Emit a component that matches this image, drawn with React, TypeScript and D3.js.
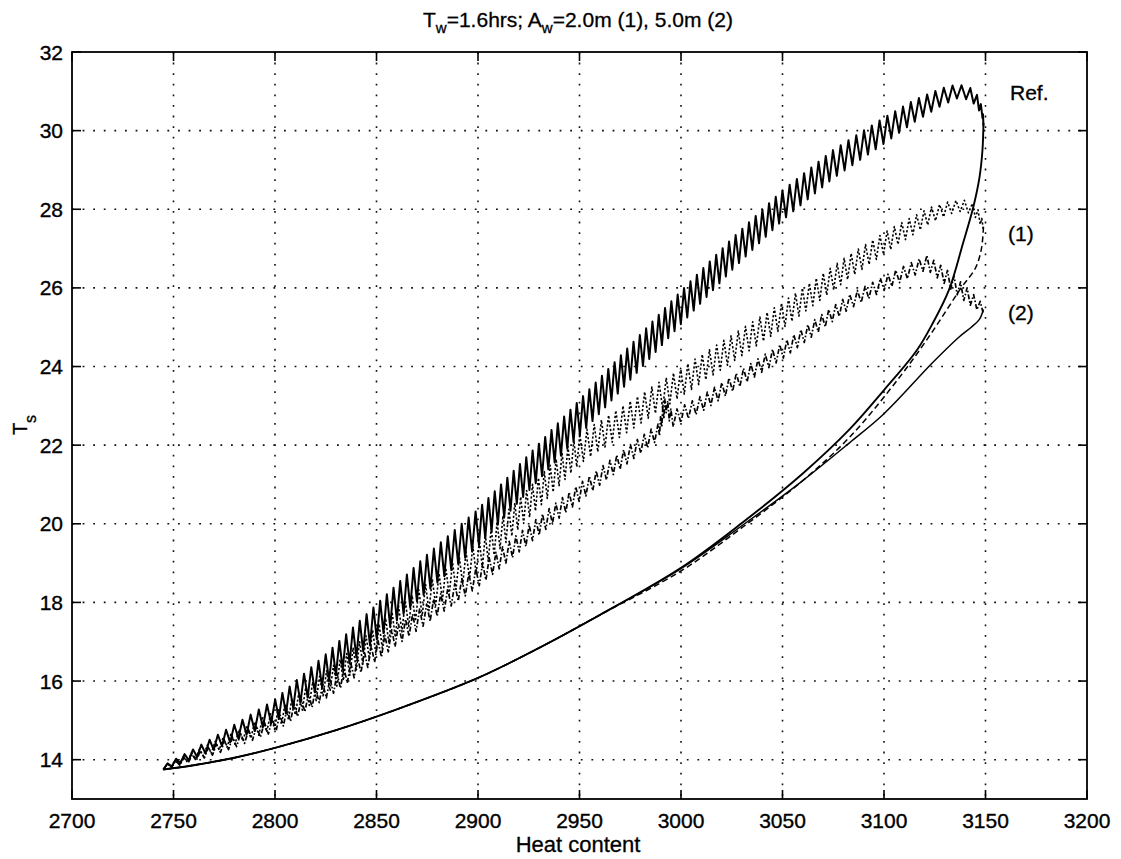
import React from 'react';
import * as d3 from 'd3';

const W = 1121;
const H = 859;
const plot = { left: 72, right: 1087, top: 52, bottom: 799 };

const xTicks = [2700, 2750, 2800, 2850, 2900, 2950, 3000, 3050, 3100, 3150, 3200];
const yTicks = [14, 16, 18, 20, 22, 24, 26, 28, 30, 32];
const xDomain = [2700, 3200];
const yDomain = [13, 32];

// Reference run: heating branch (centre of the tidal band, half band height) and cooling branch
const refRiseX = [2745, 2760, 2775, 2800, 2825, 2850, 2875, 2900, 2925, 2950, 2975, 3000, 3025, 3050, 3075, 3100, 3115, 3128, 3136, 3142, 3146, 3148.5, 3149];
const refRiseY = [13.8, 14.15, 14.55, 15.25, 16.3, 17.5, 18.75, 19.9, 21.3, 22.7, 24.1, 25.5, 26.85, 28.1, 29.15, 30.0, 30.5, 30.85, 31.0, 30.95, 30.75, 30.45, 30.2];
const refRiseAmp = [0.05, 0.12, 0.18, 0.28, 0.38, 0.45, 0.47, 0.47, 0.46, 0.45, 0.44, 0.42, 0.4, 0.38, 0.36, 0.33, 0.28, 0.22, 0.18, 0.16, 0.15, 0.12, 0.08];
const refFallX = [3149, 3148.5, 3147, 3144, 3139, 3132, 3124, 3116, 3100, 3083, 3060, 3030, 3000, 2960, 2930, 2900, 2860, 2830, 2800, 2780, 2760, 2745];
const refFallY = [30.2, 29.5, 28.8, 28.06, 27.15, 25.95, 25.1, 24.4, 23.4, 22.4, 21.28, 20.02, 18.88, 17.68, 16.84, 16.08, 15.28, 14.75, 14.3, 14.05, 13.86, 13.75];

// Case (1): A_w = 2.0 m
const c1RiseX = [2745, 2760, 2780, 2800, 2830, 2861, 2900, 2950, 3000, 3050, 3083, 3105, 3123, 3133, 3139, 3144, 3147, 3149];
const c1RiseY = [13.8, 14.1, 14.55, 15.0, 16.15, 17.55, 19.15, 21.9, 23.6, 25.3, 26.55, 27.3, 27.85, 28.05, 28.1, 28.0, 27.8, 27.55];
const c1RiseAmp = [0.05, 0.1, 0.16, 0.22, 0.3, 0.36, 0.38, 0.38, 0.36, 0.33, 0.3, 0.26, 0.2, 0.16, 0.14, 0.14, 0.14, 0.1];
const c1FallX = [3149, 3148, 3145, 3138, 3124, 3108, 3083, 3060, 3030, 3000, 2960, 2930, 2900, 2860, 2830, 2800, 2780, 2760, 2745];
const c1FallY = [27.55, 27.0, 26.5, 26.0, 24.9, 23.75, 22.2, 21.1, 19.9, 18.8, 17.68, 16.84, 16.08, 15.28, 14.75, 14.3, 14.05, 13.86, 13.75];

// Case (2): A_w = 5.0 m
const c2RiseX = [2745, 2760, 2780, 2800, 2830, 2861, 2900, 2950, 2975, 2989, 2992.5, 2995.5, 3010, 3050, 3083, 3105, 3121, 3130, 3140, 3149];
const c2RiseY = [13.8, 14.05, 14.45, 14.9, 15.95, 17.2, 18.65, 20.8, 21.8, 22.35, 23.05, 22.65, 23.05, 24.4, 25.65, 26.25, 26.65, 26.3, 25.85, 25.45];
const c2RiseAmp = [0.05, 0.1, 0.14, 0.18, 0.22, 0.25, 0.25, 0.22, 0.21, 0.2, 0.2, 0.2, 0.2, 0.2, 0.18, 0.18, 0.18, 0.2, 0.2, 0.12];
const c2FallX = [3149, 3147, 3143, 3137, 3124, 3100, 3083, 3060, 3030, 3000, 2960, 2930, 2900, 2860, 2830, 2800, 2780, 2760, 2745];
const c2FallY = [25.45, 25.2, 25.0, 24.75, 24.1, 22.8, 22.06, 21.1, 19.95, 18.86, 17.68, 16.84, 16.08, 15.28, 14.75, 14.3, 14.05, 13.86, 13.75];

// number of tidal cycles drawn along each heating branch
const refCycles = 118;
const c1Cycles = 118;
const c2Cycles = 118;

const x = d3.scaleLinear().domain(xDomain).range([plot.left, plot.right]);
const y = d3.scaleLinear().domain(yDomain).range([plot.bottom, plot.top]);

function tidalBand(xs: number[], ys: number[], amps: number[], cycles: number): string {
  const px = xs.map((v) => x(v));
  const py = ys.map((v) => y(v));
  const pa = amps.map((a) => y(yDomain[0]) - y(yDomain[0] + a));
  const cum: number[] = [0];
  for (let i = 1; i < px.length; i++) {
    cum.push(cum[i - 1] + Math.hypot(px[i] - px[i - 1], py[i] - py[i - 1]));
  }
  const sx = d3.scaleLinear().domain(cum).range(px);
  const sy = d3.scaleLinear().domain(cum).range(py);
  const sa = d3.scaleLinear().domain(cum).range(pa);
  const total = cum[cum.length - 1];
  const n = cycles * 2;
  const pts: [number, number][] = [];
  for (let k = 0; k <= n; k++) {
    const s = (k / n) * total;
    const sign = k % 2 === 0 ? 1 : -1;
    pts.push([sx(s), sy(s) + sign * sa(s)]);
  }
  return d3.line()(pts) || '';
}

function smooth(xs: number[], ys: number[]): string {
  const pts: [number, number][] = xs.map((v, i) => [x(v), y(ys[i])]);
  return d3.line().curve(d3.curveCatmullRom.alpha(0.5))(pts) || '';
}

const font = '"Liberation Sans", Arial, Helvetica, sans-serif';

export default function App() {
  const tick = 9;
  return (
    <svg
      width={W}
      height={H}
      style={{ position: 'absolute', left: 0, top: 0, background: '#fff' }}
      fontFamily={font}
    >
      <rect x={0} y={0} width={W} height={H} fill="#fff" />
      {/* grid */}
      <g stroke="#111" strokeWidth={1.6} strokeDasharray="1.8,8.8">
        {xTicks.slice(1, -1).map((t) => (
          <line key={'gx' + t} x1={x(t)} x2={x(t)} y1={plot.top} y2={plot.bottom} />
        ))}
        {yTicks.slice(0, -1).map((t) => (
          <line key={'gy' + t} x1={plot.left} x2={plot.right} y1={y(t)} y2={y(t)} />
        ))}
      </g>

      {/* curves */}
      <g fill="none" stroke="#000" strokeLinejoin="round">
        <path d={smooth(c2FallX, c2FallY)} strokeWidth={1.5} />
        <path d={smooth(c1FallX, c1FallY)} strokeWidth={1.5} strokeDasharray="6,3.5" />
        <path d={smooth(refFallX, refFallY)} strokeWidth={1.9} />
        <path d={tidalBand(c2RiseX, c2RiseY, c2RiseAmp, c2Cycles)} strokeWidth={1.7} strokeDasharray="5,2,1.6,2" />
        <path d={tidalBand(c1RiseX, c1RiseY, c1RiseAmp, c1Cycles)} strokeWidth={1.6} strokeDasharray="2.2,2" />
        <path d={tidalBand(refRiseX, refRiseY, refRiseAmp, refCycles)} strokeWidth={2} />
      </g>

      {/* axes box */}
      <rect
        x={plot.left}
        y={plot.top}
        width={plot.right - plot.left}
        height={plot.bottom - plot.top}
        fill="none"
        stroke="#000"
        strokeWidth={1.8}
      />
      <g stroke="#000" strokeWidth={1.6}>
        {xTicks.map((t) => (
          <g key={'tx' + t}>
            <line x1={x(t)} x2={x(t)} y1={plot.bottom} y2={plot.bottom - tick} />
            <line x1={x(t)} x2={x(t)} y1={plot.top} y2={plot.top + tick} />
          </g>
        ))}
        {yTicks.map((t) => (
          <g key={'ty' + t}>
            <line x1={plot.left} x2={plot.left + tick} y1={y(t)} y2={y(t)} />
            <line x1={plot.right} x2={plot.right - tick} y1={y(t)} y2={y(t)} />
          </g>
        ))}
      </g>

      {/* tick labels */}
      <g fontSize={21} fill="#000" stroke="#000" strokeWidth={0.35}>
        {xTicks.map((t) => (
          <text key={'lx' + t} x={x(t)} y={828} textAnchor="middle">
            {t}
          </text>
        ))}
        {yTicks.map((t) => (
          <text key={'ly' + t} x={63} y={y(t)} textAnchor="end" dominantBaseline="central">
            {t}
          </text>
        ))}
      </g>

      {/* title */}
      <text x={578} y={27} textAnchor="middle" fontSize={21} stroke="#000" strokeWidth={0.3}>
        <tspan>T</tspan>
        <tspan fontSize={15} dy={6}>w</tspan>
        <tspan dy={-6}>=1.6hrs; A</tspan>
        <tspan fontSize={15} dy={6}>w</tspan>
        <tspan dy={-6}>=2.0m (1), 5.0m (2)</tspan>
      </text>

      {/* axis labels */}
      <text x={578} y={852} textAnchor="middle" fontSize={22} stroke="#000" strokeWidth={0.3}>
        Heat content
      </text>
      <text
        transform="translate(27,425) rotate(-90)"
        textAnchor="middle"
        fontSize={20}
        stroke="#000"
        strokeWidth={0.3}
      >
        <tspan>T</tspan>
        <tspan fontSize={16} dy={9}>s</tspan>
      </text>

      {/* curve labels */}
      <g fontSize={21} stroke="#000" strokeWidth={0.3}>
        <text x={1010} y={100}>Ref.</text>
        <text x={1008} y={241}>(1)</text>
        <text x={1008} y={320}>(2)</text>
      </g>
    </svg>
  );
}
